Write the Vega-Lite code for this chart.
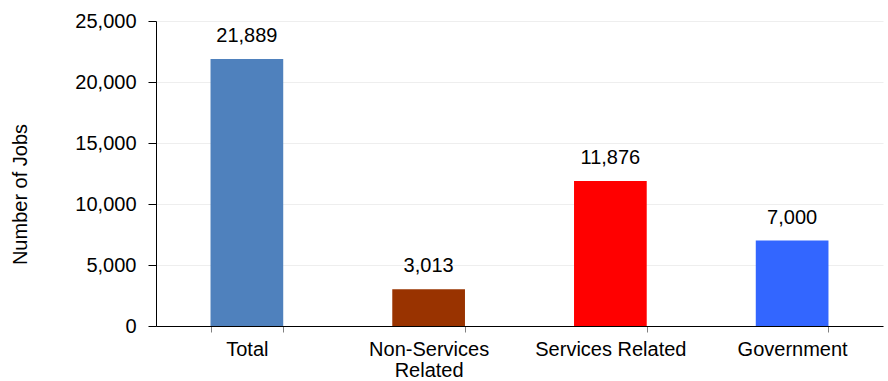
{
  "$schema": "https://vega.github.io/schema/vega-lite/v6.json",
  "width": 727,
  "height": 305,
  "autosize": {"type": "none"},
  "padding": {"left": 156, "top": 21, "right": 5, "bottom": 55},
  "background": "white",
  "config": {
    "view": {"stroke": null},
    "font": "Liberation Sans"
  },
  "data": {
    "values": [
      {"category": "Total", "jobs": 21889},
      {"category": "Non-Services Related", "jobs": 3013},
      {"category": "Services Related", "jobs": 11876},
      {"category": "Government", "jobs": 7000}
    ]
  },
  "encoding": {
    "x": {
      "field": "category",
      "type": "nominal",
      "sort": null,
      "scale": {"paddingInner": 0.6, "paddingOuter": 0.3},
      "axis": {
        "title": null,
        "labelAngle": 0,
        "labelFont": "Liberation Sans",
        "labelFontSize": 20,
        "labelColor": "#000000",
        "labelPadding": 7,
        "labelLineHeight": 21,
        "labelExpr": "datum.label == 'Non-Services Related' ? ['Non-Services', 'Related'] : datum.label",
        "tickBand": "extent",
        "tickSize": 6,
        "tickColor": "#808080",
        "domainColor": "#000000",
        "grid": false
      }
    },
    "y": {
      "field": "jobs",
      "type": "quantitative",
      "scale": {"domain": [0, 25000], "nice": false},
      "axis": {
        "title": "Number of Jobs",
        "titleFont": "Liberation Sans",
        "titleFontSize": 20,
        "titleFontWeight": "normal",
        "titleColor": "#000000",
        "titleX": -136,
        "titleY": 173,
        "titleAngle": -90,
        "titleAlign": "center",
        "titleBaseline": "middle",
        "values": [0, 5000, 10000, 15000, 20000, 25000],
        "format": ",d",
        "labelFont": "Liberation Sans",
        "labelFontSize": 20,
        "labelColor": "#000000",
        "labelPadding": 12,
        "tickSize": 8,
        "tickColor": "#000000",
        "domainColor": "#000000",
        "grid": true,
        "gridColor": "#eeeeee"
      }
    }
  },
  "layer": [
    {
      "mark": {"type": "bar"},
      "encoding": {
        "color": {
          "field": "category",
          "type": "nominal",
          "legend": null,
          "scale": {
            "domain": ["Total", "Non-Services Related", "Services Related", "Government"],
            "range": ["#4F81BD", "#993300", "#FF0000", "#3366FF"]
          }
        }
      }
    },
    {
      "mark": {"type": "text", "baseline": "alphabetic", "dy": -17, "fontSize": 20, "font": "Liberation Sans", "color": "#000000"},
      "encoding": {
        "text": {"field": "jobs", "type": "quantitative", "format": ",d"}
      }
    }
  ]
}
